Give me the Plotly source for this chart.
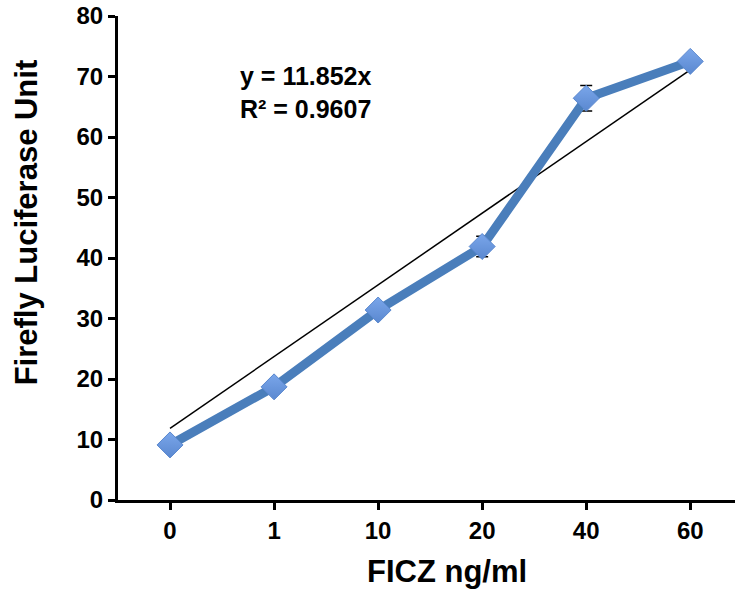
import plotly.graph_objects as go

categories = ["0", "1", "10", "20", "40", "60"]
values = [9.1, 18.7, 31.4, 41.9, 66.4, 72.5]
errors = [1.0, 1.0, 0.8, 1.7, 2.1, 0.5]
slope = 11.852
r2 = 0.9607
trend = [slope * (i + 1) for i in range(len(categories))]
x_title = "FICZ ng/ml"
y_title = "Firefly Luciferase Unit"

FONT = "Liberation Sans, Arial, sans-serif"

fig = go.Figure()
fig.add_trace(go.Scatter(
    x=categories, y=trend, mode="lines",
    line=dict(color="black", width=1.5), showlegend=False, hoverinfo="skip"))
fig.add_trace(go.Scatter(
    x=categories, y=values, mode="lines+markers",
    line=dict(color="#4a7ebb", width=9),
    marker=dict(symbol="diamond", size=20, color="#7aa6ea",
                gradient=dict(type="vertical", color="#5a88d0"),
                line=dict(color="#5a88cf", width=1)),
    error_y=dict(type="data", array=errors, color="black", thickness=1.5, width=6),
    showlegend=False))

fig.add_annotation(x=0.195, y=0.91, xref="paper", yref="paper", xanchor="left", yanchor="top",
                   text=f"y = {slope}x<br>R² = {r2}", showarrow=False, align="left",
                   font=dict(family=FONT, size=25, color="black", weight="bold"))
fig.add_annotation(x=0.533, y=-0.147, xref="paper", yref="paper", xanchor="center", yanchor="middle",
                   text=x_title, showarrow=False,
                   font=dict(family=FONT, size=31, color="black", weight="bold"))
fig.add_annotation(x=-0.148, y=0.573, xref="paper", yref="paper", xanchor="center", yanchor="middle",
                   text=y_title, showarrow=False, textangle=-90,
                   font=dict(family=FONT, size=31, color="black", weight="bold"))

fig.update_layout(
    width=735, height=594, margin=dict(l=118, r=0, t=16, b=94, autoexpand=False),
    plot_bgcolor="white", paper_bgcolor="white",
    font=dict(family=FONT, color="black"),
    xaxis=dict(type="category", range=[-0.5, 5.43], showline=True, linecolor="black", linewidth=3,
               ticks="outside", ticklen=7, tickwidth=3, tickcolor="black", automargin=False,
               tickfont=dict(size=24, weight="bold"), showgrid=False, zeroline=False),
    yaxis=dict(range=[0, 80], dtick=10, showline=True, linecolor="black", linewidth=3,
               ticks="outside", ticklen=7, tickwidth=3, tickcolor="black", automargin=False,
               ticklabeloverflow="allow",
               tickfont=dict(size=24, weight="bold"), showgrid=False, zeroline=False),
)
fig.write_html("out.html", config={"displayModeBar": False},
               post_script="document.body.style.margin='0';")
